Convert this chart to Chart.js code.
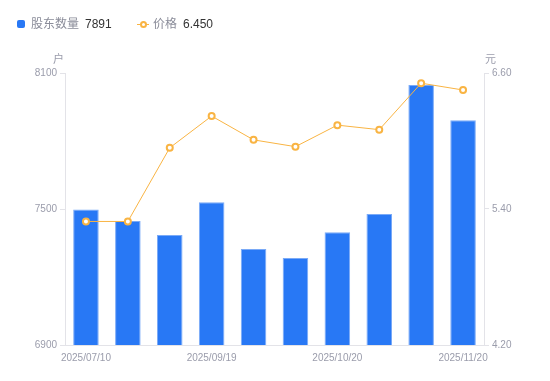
<!DOCTYPE html>
<html>
<head>
<meta charset="utf-8">
<script src="https://cdn.jsdelivr.net/npm/chart.js@4/dist/chart.umd.min.js"></script>
<style>
    body { margin: 0; background: #fff; }
    #wrap { position: relative; width: 550px; height: 381px; font-family: 'Liberation Sans', 'Noto Sans CJK SC', sans-serif; }
    #chart { position: absolute; left: 0; top: 0; }
    .lg { position: absolute; font-size: 12px; line-height: 14px; top: 17px; white-space: nowrap; }
    .lg-name { color: #8a8c99; }
    .lg-val { color: #333; }
    .unit { position: absolute; font-size: 11px; color: #9a9cab; top: 50px; }
    #sq { position: absolute; left: 17px; top: 20px; width: 8px; height: 8px; background: #2878f5; border-radius: 2px; }
    #ln { position: absolute; left: 137px; top: 23.5px; width: 12px; height: 1px; background: #f9b443; }
    #dot { position: absolute; left: 139.5px; top: 20.5px; width: 3px; height: 3px; border: 2px solid #f9b443; border-radius: 50%; background: #fff; }
</style>
</head>
<body>
<div id="wrap">
    <canvas id="chart" width="550" height="381"></canvas>
    <div id="sq"></div>
    <div class="lg lg-name" style="left:31px">股东数量</div>
    <div class="lg lg-val" style="left:85px">7891</div>
    <div id="ln"></div>
    <div id="dot"></div>
    <div class="lg lg-name" style="left:153px">价格</div>
    <div class="lg lg-val" style="left:183px">6.450</div>
    <div class="unit" style="left:53px">户</div>
    <div class="unit" style="left:485px">元</div>
</div>
<script>
// data
const dates = ['2025/07/10', '2025/07/31', '2025/08/29', '2025/09/19', '2025/09/30',
    '2025/10/10', '2025/10/20', '2025/10/31', '2025/11/10', '2025/11/20'];
const holders = [7498, 7447, 7385, 7530, 7324, 7284, 7397, 7478, 8047, 7891];
const prices = [5.29, 5.29, 5.94, 6.22, 6.01, 5.95, 6.14, 6.10, 6.51, 6.45];
const shownDates = [0, 3, 6, 9];

const axisGrey = '#e3e3e8';
const tickGrey = '#9a9cab';

const ctx = document.getElementById('chart').getContext('2d');

new Chart(ctx, {
    type: 'bar',
    data: {
        labels: dates,
        datasets: [{
            type: 'line',
            label: '价格',
            data: prices,
            yAxisID: 'yPrice',
            borderColor: '#f9b443',
            borderWidth: 1,
            pointRadius: 3,
            pointBorderWidth: 2,
            pointBackgroundColor: '#fff',
            pointBorderColor: '#f9b443',
            tension: 0,
            order: 0
        }, {
            label: '股东数量',
            data: holders,
            yAxisID: 'yCount',
            backgroundColor: '#2878f5',
            borderColor: '#7aaaf7',
            borderWidth: 1,
            categoryPercentage: 1,
            barPercentage: 0.61,
            order: 1
        }]
    },
    options: {
        responsive: false,
        animation: false,
        layout: { padding: { top: 73, left: 0, right: 0, bottom: 0 } },
        plugins: {
            legend: { display: false },
            tooltip: { enabled: false }
        },
        scales: {
            x: {
                grid: { display: false, drawTicks: false },
                border: { display: true, color: axisGrey },
                ticks: {
                    autoSkip: false,
                    maxRotation: 0,
                    padding: 7,
                    color: tickGrey,
                    font: { size: 10, family: 'Liberation Sans' },
                    callback: (value, index) => shownDates.includes(index) ? dates[index] : ''
                },
                afterFit: (scale) => { scale.height = 36; }
            },
            yCount: {
                position: 'left',
                min: 6900,
                max: 8100,
                grid: { drawOnChartArea: false, color: axisGrey, tickLength: 5 },
                border: { color: axisGrey },
                ticks: {
                    stepSize: 600,
                    padding: 3,
                    color: tickGrey,
                    font: { size: 10, family: 'Liberation Sans' },
                    callback: (value) => String(value)
                },
                afterFit: (scale) => { scale.width = 65; }
            },
            yPrice: {
                position: 'right',
                min: 4.2,
                max: 6.6,
                grid: { drawOnChartArea: false, color: axisGrey, tickLength: 5 },
                border: { color: axisGrey },
                ticks: {
                    stepSize: 1.2,
                    padding: 3,
                    color: tickGrey,
                    font: { size: 10, family: 'Liberation Sans' },
                    callback: (value) => Number(value).toFixed(2)
                },
                afterFit: (scale) => { scale.width = 66; }
            }
        }
    }
});
</script>
</body>
</html>
